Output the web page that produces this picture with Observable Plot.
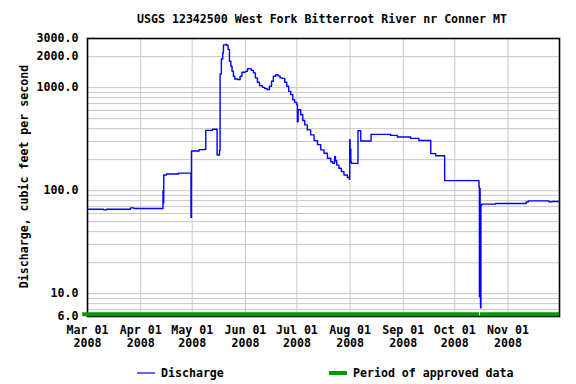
<!DOCTYPE html>
<html><head><meta charset="utf-8">
<script src="https://cdn.jsdelivr.net/npm/d3@7"></script>
<script src="https://cdn.jsdelivr.net/npm/@observablehq/plot@0.6"></script>
<style>body{margin:0;background:#fff}</style>
</head><body><div id="chart"></div>
<script>
// Discharge readings (cfs), drawn as a step line
const dates = [
  "2008-03-01","2008-03-10T12:00","2008-03-12","2008-03-26","2008-03-28",
  "2008-04-14","2008-04-14T05:00","2008-04-14T10:00","2008-04-16","2008-04-23",
  "2008-04-30T07:00","2008-04-30T14:00","2008-05-05","2008-05-08T07:00","2008-05-08T22:00",
  "2008-05-12T19:00","2008-05-15T12:00","2008-05-16T22:00","2008-05-17T06:00","2008-05-18",
  "2008-05-18T19:00","2008-05-19T05:00","2008-05-20T10:00","2008-05-21T02:00","2008-05-21T22:00",
  "2008-05-22T17:00","2008-05-23T12:00","2008-05-24T05:00","2008-05-25","2008-05-25T19:00",
  "2008-05-27T10:00","2008-05-28T22:00","2008-05-30","2008-06-01","2008-06-02T05:00",
  "2008-06-03T02:00","2008-06-04T12:00","2008-06-05T17:00","2008-06-06T19:00","2008-06-08",
  "2008-06-09T05:00","2008-06-10T22:00","2008-06-12T07:00","2008-06-13T19:00","2008-06-15",
  "2008-06-16T05:00","2008-06-17T07:00","2008-06-18T17:00","2008-06-20","2008-06-21T05:00",
  "2008-06-22T14:00","2008-06-23T22:00","2008-06-25T02:00","2008-06-26T05:00","2008-06-27T10:00",
  "2008-06-28T14:00","2008-06-29T17:00","2008-06-30T22:00","2008-07-01T07:00","2008-07-01T17:00",
  "2008-07-03T05:00","2008-07-04T10:00","2008-07-05T14:00","2008-07-07T02:00","2008-07-09",
  "2008-07-11","2008-07-13","2008-07-14T22:00","2008-07-16T19:00","2008-07-18T19:00",
  "2008-07-20T17:00","2008-07-21T22:00","2008-07-23","2008-07-23T12:00","2008-07-24T05:00",
  "2008-07-25T12:00","2008-07-26T22:00","2008-07-28T10:00","2008-07-30T10:00","2008-07-31T14:00",
  "2008-07-31T19:00","2008-08-01","2008-08-01T10:00","2008-08-01T19:00","2008-08-05T14:00",
  "2008-08-07T05:00","2008-08-13T05:00","2008-08-24T14:00","2008-08-28T12:00","2008-09-05T07:00",
  "2008-09-10T02:00","2008-09-17","2008-09-19T22:00","2008-09-25T02:00","2008-10-15T02:00",
  "2008-10-15T08:00","2008-10-15T13:00","2008-10-15T18:00","2008-10-16T00:00","2008-10-16T05:00",
  "2008-10-16T14:00","2008-10-24T19:00","2008-11-11T14:00","2008-11-12T19:00","2008-11-24T19:00",
  "2008-11-26T19:00","2008-12-01"
];
const discharge = [
  66,65,66,68,67,
  100,76,142,145,148,
  55,243,250,252,385,
  395,222,245,1360,1900,
  2180,2600,2620,2580,2350,
  1806,1614,1442,1289,1215,
  1200,1290,1411,1440,1531,
  1520,1470,1391,1243,1127,
  1046,1007,978,956,1030,
  1152,1289,1339,1300,1243,
  1230,1127,1030,920,855,
  764,719,683,467,610,
  545,480,435,389,348,
  306,280,249,231,206,
  191,184,214,195,177,
  165,153,142,134,129,
  312,254,191,184,382,
  303,352,344,332,322,
  307,229,218,125,109,
  9.3,105,9.3,7.3,72,
  74,75,77.5,79.5,78,
  78.5,78.5
];
// Period of approved data
const approvedStart = ["2008-02-27T06:00","2008-10-16"];
const approvedEnd = ["2008-10-15T12:00","2008-12-01"];
// Axes
const monthTicks = ["2008-03-01","2008-04-01","2008-05-01","2008-06-01","2008-07-01","2008-08-01","2008-09-01","2008-10-01","2008-11-01"];
const xDomain = ["2008-03-01","2008-12-01"];
const yDomain = [6, 3000];
const yTicks = [6, 10, 100, 1000, 2000, 3000];
const yGrid = [7,8,9,10,20,30,40,50,60,70,80,90,100,200,300,400,500,600,700,800,900,1000,2000];

const title = "USGS 12342500 West Fork Bitterroot River nr Conner MT";
const yLabel = "Discharge, cubic feet per second";
const legendItems = ["Discharge", "Period of approved data"];

const parse = s => new Date(s.length === 10 ? s + "T00:00:00Z" : s + ":00Z");
const data = dates.map((d, i) => ({date: parse(d), value: discharge[i]}));
const periods = approvedStart.map((s, i) => ({start: parse(s), end: parse(approvedEnd[i])}));
const fmtM = d3.utcFormat("%b %d"), fmtY = d3.utcFormat("%Y");
const FONT = "'DejaVu Sans Mono', monospace";

const svg = Plot.plot({
  width: 576, height: 384,
  marginLeft: 87, marginRight: 17, marginTop: 38, marginBottom: 68,
  style: {fontFamily: FONT, fontSize: "11.6px", fontWeight: "bold", color: "black", background: "white"},
  x: {type: "utc", domain: xDomain.map(parse), axis: null},
  y: {type: "log", domain: yDomain, axis: null},
  marks: [
    Plot.ruleY(yGrid, {stroke: "#c8c8c8", strokeWidth: 1}),
    Plot.ruleX(monthTicks.map(parse), {stroke: "#c8c8c8", strokeWidth: 1}),
    Plot.frame({stroke: "black", strokeWidth: 1.6}),
    Plot.ruleY(periods, {x1: "start", x2: "end", y: () => yDomain[0], dy: -2.3, stroke: "#009900", strokeWidth: 4, strokeOpacity: 1}),
    Plot.line(data, {x: "date", y: "value", curve: "step-after", stroke: "#0000ff", strokeWidth: 1.4}),
    Plot.text(monthTicks.map(parse), {x: d => d, frameAnchor: "bottom", lineAnchor: "top", dy: 8, lineHeight: 1.12,
      text: d => fmtM(d) + "\n" + fmtY(d), fill: "black"}),
    Plot.text(yTicks, {y: d => d, frameAnchor: "left", textAnchor: "end", dx: -9,
      text: d => d3.format(".1f")(d), fill: "black"})
  ]
});
document.getElementById("chart").appendChild(svg);

const s = d3.select(svg);
const txt = (x, y, t, anchor) => s.append("text").attr("x", x).attr("y", y)
  .attr("text-anchor", anchor).attr("dominant-baseline", "middle")
  .style("font-family", FONT).style("font-size", "11.6px").style("font-weight", "bold")
  .attr("fill", "black").text(t);
txt(322, 19, title, "middle");
txt(0, 0, yLabel, "middle").attr("transform", "translate(24,176.5) rotate(-90)");
s.append("line").attr("x1", 137).attr("x2", 155).attr("y1", 373).attr("y2", 373)
  .attr("stroke", "#0000ff").attr("stroke-width", 1.2);
txt(161, 373, legendItems[0], "start");
s.append("rect").attr("x", 329).attr("y", 371).attr("width", 18).attr("height", 4).attr("fill", "#009900");
txt(353, 373, legendItems[1], "start");
</script>
</body></html>
